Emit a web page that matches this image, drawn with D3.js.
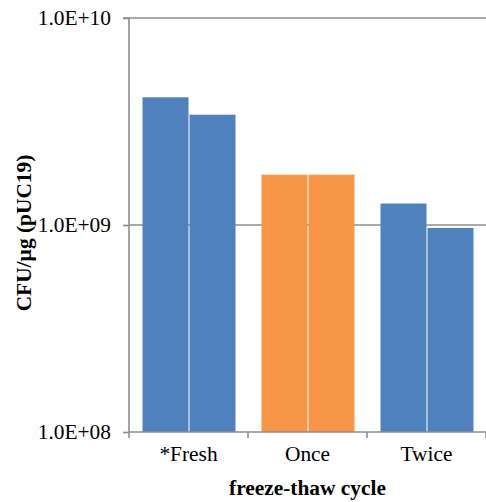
<!DOCTYPE html>
<html><head><meta charset="utf-8">
<script src="https://cdn.jsdelivr.net/npm/d3@7"></script>
<style>body{margin:0;background:#fff}svg{display:block}</style>
</head><body>
<script>
const categories = ["*Fresh", "Once", "Twice"];
const series1 = [4.14e9, 1.75e9, 1.27e9];
const series2 = [3.41e9, 1.75e9, 9.68e8];
const barColors = ["#4F81BD", "#F79646", "#4F81BD"];
const yTicks = [1e8, 1e9, 1e10];
const yTickLabels = ["1.0E+08", "1.0E+09", "1.0E+10"];

const W = 486, H = 502;
const m = {left: 129, right: 0, top: 18, bottom: 70};
const svg = d3.select("body").append("svg").attr("width", W).attr("height", H);
const font = "'Liberation Serif','Times New Roman',serif";
const fs = 21.4;
const axisColor = "#8c8c8c";

const x = d3.scaleBand().domain(categories).range([m.left, W]).paddingInner(0).paddingOuter(0);
const y = d3.scaleLog().domain([1e8, 1e10]).range([H - m.bottom, m.top]);

// gridlines
svg.append("g").selectAll("line").data(yTicks.slice(1)).join("line")
  .attr("x1", m.left).attr("x2", W)
  .attr("y1", d => y(d)).attr("y2", d => y(d))
  .attr("stroke", axisColor).attr("stroke-width", 1.6);

// bars
const g = svg.append("g");
categories.forEach((c, i) => {
  [series1[i], series2[i]].forEach((v, k) => {
    g.append("rect")
      .attr("x", x(c) + 13.5 + k * 47)
      .attr("width", 46)
      .attr("y", y(v))
      .attr("height", y(1e8) - y(v))
      .attr("fill", barColors[i]);
  });
});

// y axis
const yAxis = d3.axisLeft(y).tickValues(yTicks).tickFormat((d, i) => yTickLabels[i]).tickSize(6).tickPadding(12);
const ya = svg.append("g").attr("transform", `translate(${m.left},0)`).call(yAxis);
ya.select(".domain").attr("stroke", axisColor).attr("stroke-width", 1.6).attr("d", `M-6,${m.top}H0V${H - m.bottom}`);
ya.selectAll(".tick line").attr("stroke", axisColor).attr("stroke-width", 1.6);
ya.selectAll(".tick text").attr("font-family", font).attr("font-size", fs).attr("fill", "#000");

// x axis
const xAxis = d3.axisBottom(x).tickSize(0).tickPadding(14);
const xa = svg.append("g").attr("transform", `translate(0,${H - m.bottom})`).call(xAxis);
xa.select(".domain").attr("stroke", axisColor).attr("stroke-width", 1.6).attr("d", `M${m.left},0H${W}`);
xa.selectAll(".tick text").attr("font-family", font).attr("font-size", fs).attr("fill", "#000");
// category separators
xa.append("g").selectAll("line").data([m.left, ...categories.map(c => x(c) + x.bandwidth())]).join("line")
  .attr("x1", d => d).attr("x2", d => d).attr("y1", 0).attr("y2", 6)
  .attr("stroke", axisColor).attr("stroke-width", 1.6);

// titles
svg.append("text").attr("x", (m.left + W) / 2).attr("y", 495).attr("text-anchor", "middle")
  .attr("font-family", font).attr("font-size", fs).attr("font-weight", "bold").text("freeze-thaw cycle");
svg.append("text").attr("transform", `translate(31,${(m.top + H - m.bottom) / 2 + 8}) rotate(-90)`)
  .attr("text-anchor", "middle").attr("font-family", font).attr("font-size", fs).attr("font-weight", "bold")
  .text("CFU/µg (pUC19)");
</script>
</body></html>
